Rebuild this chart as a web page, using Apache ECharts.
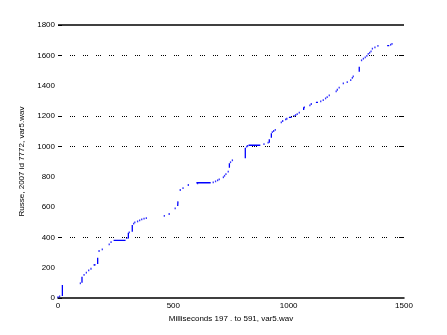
<!DOCTYPE html>
<html>
<head>
<meta charset="utf-8">
<script src="https://cdn.jsdelivr.net/npm/echarts@6/dist/echarts.min.js"></script>
<style>html,body{margin:0;padding:0;background:#fff;}#c{width:447px;height:335px;}</style>
</head>
<body>
<div id="c"></div>
<script>
// x: milliseconds, y: cumulative value
var xTicks = [0, 500, 1000, 1500];
var yTicks = [0, 200, 400, 600, 800, 1000, 1200, 1400, 1600, 1800];
var leftTickValues = [0, 400, 1000, 1200, 1600, 1800];
var gridValues = [400, 1000, 1200, 1600];
var topValue = 1800;

var dotPoints = [
  [0,5],[7,11],[97,97],[113,152],[123,167],[133,182],[143,193],[157,218],[178,310],[192,321],
  [222,354],[230,369],[298,395],[309,433],[328,490],[333,499],[345,505],[354,512],[363,519],[373,523],
  [383,527],[461,541],[482,554],[508,591],[530,712],[542,725],[565,745],[605,756],[673,763],[683,769],
  [692,776],[699,782],[717,796],[722,806],[728,817],[738,833],[748,895],[756,908],[818,998],[822,1003],
  [893,1015],[911,1024],[929,1094],[935,1101],[942,1108],[968,1158],[974,1167],[987,1178],[992,1182],
  [1023,1200],[1030,1206],[1037,1213],[1046,1222],[1068,1257],[1092,1270],[1098,1279],[1139,1297],
  [1150,1305],[1160,1316],[1167,1325],[1176,1336],[1206,1362],[1211,1373],[1219,1387],[1237,1415],
  [1254,1424],[1269,1437],[1276,1452],[1280,1461],[1316,1567],[1324,1578],[1332,1587],[1339,1597],
  [1345,1609],[1351,1617],[1357,1626],[1363,1644],[1374,1653],[1387,1662],[1442,1670],[1448,1675]
];

var segments = [
  [[19,13],[19,86]],
  [[104,100],[104,140]],
  [[157,218],[163,218]],
  [[172,224],[172,266]],
  [[241,380],[293,380]],
  [[305,393],[305,430]],
  [[322,437],[322,481]],
  [[519,606],[520,637]],
  [[600,760],[662,760]],
  [[743,859],[743,888]],
  [[812,921],[812,990]],
  [[826,1007],[877,1007]],
  [[916,1024],[916,1046]],
  [[925,1057],[925,1086]],
  [[1001,1191],[1013,1191]],
  [[1065,1239],[1065,1257]],
  [[1118,1290],[1127,1290]],
  [[1306,1492],[1306,1525]],
  [[1427,1664],[1436,1664]]
];

var xLabel = 'Milliseconds 197 . to 591, var5.wav';
var yLabel = 'Russe, 2007 id 7772, var5.wav';

var segData = [];
segments.forEach(function (s) { segData.push(s[0], s[1], ['-', '-']); });

var blue = '#0000ff';
var font = 'Liberation Sans, Arial, sans-serif';
var plain = function (v) { return String(v); };

var chart = echarts.init(document.getElementById('c'), null, {renderer: 'canvas'});
chart.setOption({
  animation: false,
  backgroundColor: '#fff',
  grid: {left: 58, right: 43, top: 25, bottom: 37, containLabel: false},
  xAxis: {
    type: 'value', min: 0, max: 1500, interval: 500,
    name: xLabel, nameLocation: 'middle', nameGap: 16,
    nameTextStyle: {fontFamily: font, fontSize: 8, color: '#000'},
    axisLine: {show: true, lineStyle: {color: '#000', width: 1.5}},
    axisTick: {show: false},
    splitLine: {show: false},
    axisLabel: {fontFamily: font, fontSize: 8, color: '#000', margin: 4,
      customValues: xTicks, formatter: plain}
  },
  yAxis: [{
    type: 'value', min: 0, max: 1800, interval: 200,
    name: yLabel, nameLocation: 'middle', nameGap: 32, nameRotate: 90,
    nameTextStyle: {fontFamily: font, fontSize: 8, color: '#000'},
    axisLine: {show: false},
    axisTick: {show: true, inside: true, length: 4, customValues: leftTickValues,
      lineStyle: {color: '#000', width: 1}},
    splitLine: {show: false},
    axisLabel: {fontFamily: font, fontSize: 8, color: '#000', margin: 3,
      customValues: yTicks, formatter: plain}
  }, {
    type: 'value', min: 0, max: 1800, interval: 200, position: 'right',
    axisLine: {show: false},
    axisTick: {show: true, inside: true, length: 4, customValues: gridValues,
      lineStyle: {color: '#000', width: 1}},
    splitLine: {show: false},
    axisLabel: {show: false}
  }],
  series: [{
    type: 'line',
    data: segData,
    showSymbol: false,
    symbol: 'none',
    connectNulls: false,
    lineStyle: {color: blue, width: 1.3},
    silent: true,
    markLine: {
      silent: true, symbol: ['none', 'none'], label: {show: false},
      data: gridValues.map(function (v) {
        return {yAxis: v, lineStyle: {color: '#000', width: 1, type: [1, 1, 1, 1, 1, 8], dashOffset: -12}};
      }).concat([{yAxis: topValue, lineStyle: {color: '#000', width: 1.5, type: 'solid'}}])
    }
  }, {
    type: 'scatter',
    data: dotPoints,
    symbol: 'rect',
    symbolSize: [1.3, 1.8],
    itemStyle: {color: blue},
    silent: true
  }]
});
</script>
</body>
</html>
